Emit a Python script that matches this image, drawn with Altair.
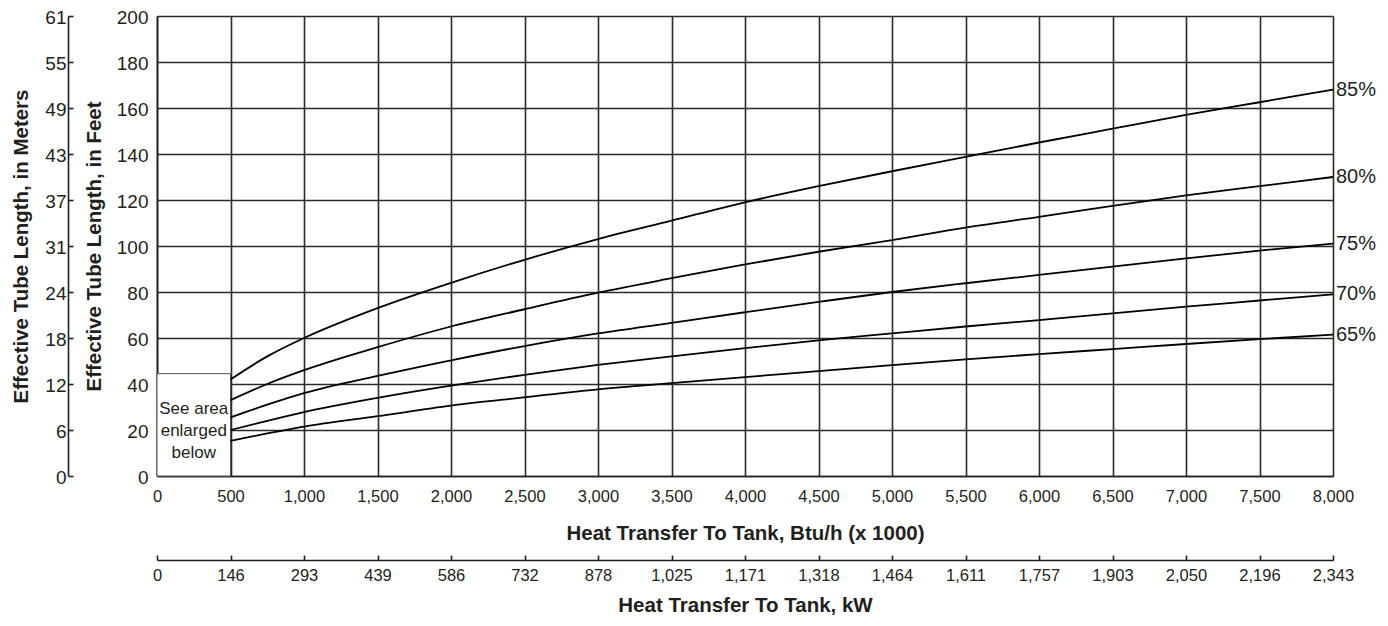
import altair as alt
import pandas as pd

# ---------------- data ----------------
btu = [500, 750, 1000, 1500, 2000, 2500, 3000, 3500, 4000, 4500, 5000, 5500, 6000, 6500, 7000, 7500, 8000]
eff85 = [42, 52, 60, 73, 84, 94, 103, 111, 119, 126, 132.5, 138.7, 145, 151, 157, 162.5, 168]
eff80 = [33, 40, 46, 56, 65, 72.5, 79.7, 86, 92, 97.5, 102.6, 108, 112.7, 117.4, 122, 126, 130]
eff75 = [25.5, 31, 36, 43.5, 50.3, 56.5, 62, 66.6, 71.2, 75.7, 80, 83.8, 87.4, 91, 94.6, 98, 101]
eff70 = [20, 24, 27.8, 34, 39.3, 44, 48.3, 52, 55.6, 59, 62, 65, 67.8, 70.7, 73.6, 76.3, 79]
eff65 = [15.3, 18.5, 21.5, 26, 30.6, 34.2, 37.7, 40.4, 43, 45.6, 48.2, 50.7, 53, 55.2, 57.4, 59.5, 61.5]
series_names = ["85%", "80%", "75%", "70%", "65%"]
series_vals = [eff85, eff80, eff75, eff70, eff65]

btu_ticks = list(range(0, 8001, 500))
kw_labels = ["0", "146", "293", "439", "586", "732", "878", "1,025", "1,171", "1,318",
             "1,464", "1,611", "1,757", "1,903", "2,050", "2,196", "2,343"]
ft_ticks = list(range(0, 201, 20))
m_labels = ["0", "6", "12", "18", "24", "31", "37", "43", "49", "55", "61"]

box_end = 500
box_top = 44.5
box_text = "See area\nenlarged\nbelow"
box_text_y = 29

# ---------------- styling ----------------
FONT = "Liberation Sans, Arial"
INK = "#231f20"
GRID = "#2a2a2a"

rows = []
for name, vals in zip(series_names, series_vals):
    for x, v in zip(btu, vals):
        rows.append({"btu": x, "ft": v, "series": name})
df = pd.DataFrame(rows)
df_end = pd.DataFrame({"btu": [btu[-1]] * len(series_names),
                       "ft": [v[-1] for v in series_vals],
                       "series": series_names})
df_box = pd.DataFrame({"btu": [0], "btu2": [box_end], "ft": [0], "ft2": [box_top]})
df_boxtext = pd.DataFrame({"btu": [box_end / 2], "ft": [box_text_y], "label": [box_text]})

x_scale = alt.Scale(domain=[0, 8000], nice=False, zero=False)
y_scale = alt.Scale(domain=[0, 200], nice=False)

x_axis = alt.Axis(values=btu_ticks, format=",d", grid=True, gridColor=GRID, gridWidth=1.6,
                  gridOpacity=1, domainColor=INK, domainWidth=1.6, ticks=False,
                  labelFont=FONT, labelFontSize=16.5, labelColor=INK, labelPadding=12,
                  labelFlush=False,
                  title="Heat Transfer To Tank, Btu/h (x 1000)", titleFont=FONT,
                  titleFontSize=20.5, titleFontWeight="bold", titleColor=INK, titlePadding=19)
y_axis = alt.Axis(values=ft_ticks, grid=True, gridColor=GRID, gridWidth=1.6, gridOpacity=1,
                  domainColor=INK, domainWidth=1.6, ticks=False,
                  labelFont=FONT, labelFontSize=19, labelColor=INK, labelPadding=9,
                  labelOffset=1.5,
                  title="Effective Tube Length, in Feet", titleFont=FONT, titleFontSize=20.5,
                  titleFontWeight="bold", titleColor=INK, titlePadding=12)

X = alt.X("btu:Q", scale=x_scale, axis=x_axis)
Y = alt.Y("ft:Q", scale=y_scale, axis=y_axis)

box = alt.Chart(df_box).mark_rect(fill="white", stroke="#555555", strokeWidth=1).encode(
    x=X, x2="btu2:Q", y=Y, y2="ft2:Q")

boxtext = alt.Chart(df_boxtext).mark_text(font=FONT, fontSize=17, color=INK,
                                           lineBreak="\n", lineHeight=22,
                                           baseline="middle", align="center").encode(
    x=X, y=Y, text="label:N")

lines = alt.Chart(df).mark_line(color="black", strokeWidth=1.8, interpolate="monotone").encode(
    x=X, y=Y, detail="series:N")

labels = alt.Chart(df_end).mark_text(font=FONT, fontSize=20, color=INK, align="left",
                                      baseline="middle", dx=3).encode(
    x=X, y=Y, text="series:N")

main = alt.layer(box, boxtext, lines, labels)

kw_expr = "[" + ",".join("'" + s + "'" for s in kw_labels) + "][round(datum.value/500)]"
m_expr = "[" + ",".join("'" + s + "'" for s in m_labels) + "][round(datum.value/20)]"

secondary = alt.Chart(df).mark_point(opacity=0).encode(
    x=alt.X("btu:Q", scale=x_scale,
            axis=alt.Axis(values=btu_ticks, labelExpr=kw_expr, orient="bottom", offset=84,
                          grid=False, domainColor=INK, domainWidth=1.6,
                          tickColor=INK, tickWidth=1.6, tickSize={"expr": "-5"},
                          labelFont=FONT, labelFontSize=16.5, labelColor=INK, labelPadding=12,
                          labelFlush=False,
                          title="Heat Transfer To Tank, kW", titleFont=FONT, titleFontSize=20.5,
                          titleFontWeight="bold", titleColor=INK, titlePadding=12)),
    y=alt.Y("ft:Q", scale=y_scale,
            axis=alt.Axis(values=ft_ticks, labelExpr=m_expr, orient="left", offset=89,
                          grid=False, domainColor=INK, domainWidth=1.6,
                          tickColor=INK, tickWidth=1.6, tickSize={"expr": "-5"},
                          labelFont=FONT, labelFontSize=19, labelColor=INK, labelPadding=7,
                          labelOffset=1.5,
                          title="Effective Tube Length, in Meters", titleFont=FONT,
                          titleFontSize=20.5, titleFontWeight="bold", titleColor=INK,
                          titlePadding=13)),
)

chart = alt.layer(main, secondary).resolve_scale(x="independent", y="independent").properties(
    width=1176, height=460,
    autosize=alt.AutoSizeParams(type="none"),
    padding={"left": 149, "top": 8, "right": 47, "bottom": 142},
).configure_view(stroke=INK, strokeWidth=1.6).configure(background="white")

chart.save("out.html", embed_options={"renderer": "svg", "actions": False})
